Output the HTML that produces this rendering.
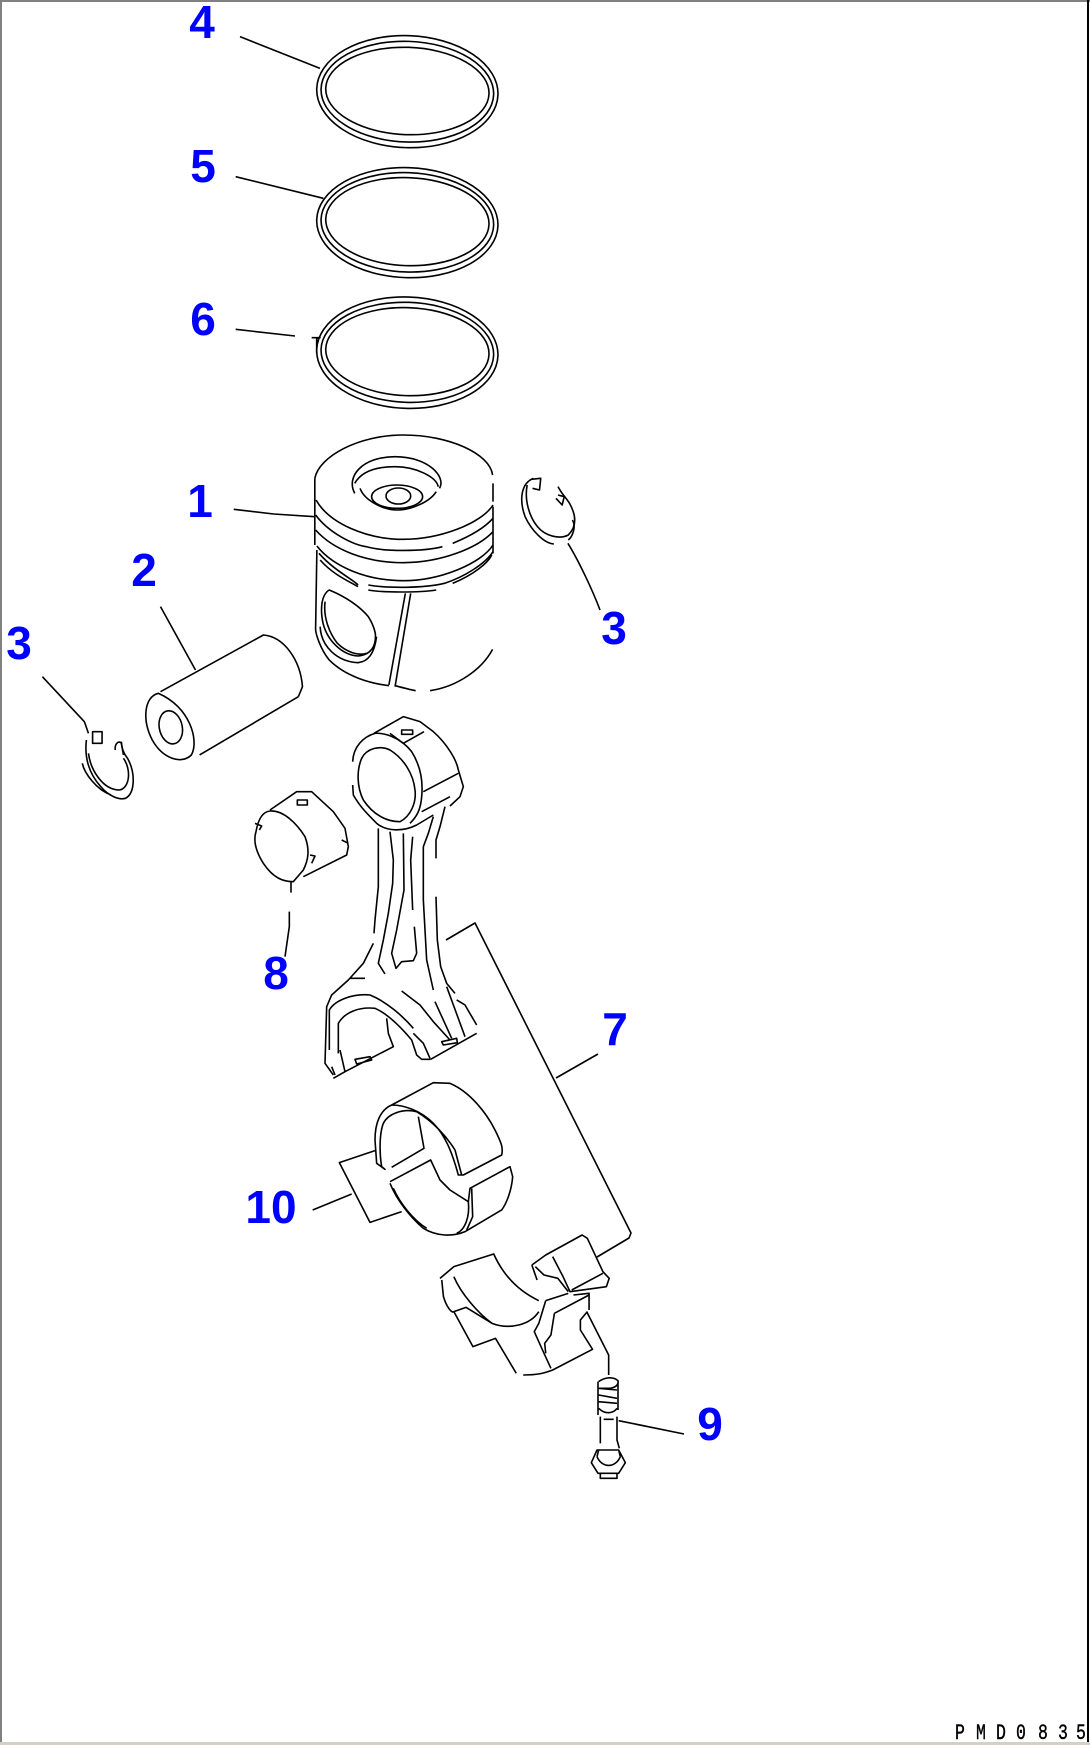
<!DOCTYPE html>
<html>
<head>
<meta charset="utf-8">
<style>
html,body{margin:0;padding:0;background:#fff;}
svg{display:block;}
path,ellipse{fill:none;stroke:#000;stroke-width:1.6;vector-effect:non-scaling-stroke;stroke-linejoin:round;}
.l{font-family:"Liberation Sans",sans-serif;font-weight:bold;font-size:46px;fill:#0000ff;text-anchor:middle;}
.f{font-family:"Liberation Mono",monospace;font-size:22px;fill:#000;stroke:#000;stroke-width:.4;}
</style>
</head>
<body>
<svg xmlns="http://www.w3.org/2000/svg" width="1090" height="1745" viewBox="0 0 1090 1745">
<rect width="1090" height="1745" fill="#fff"/>
<rect x="0" y="0" width="1090" height="2" fill="#808080"/>
<rect x="0" y="0" width="2" height="1745" fill="#808080"/>
<rect x="1087" y="0" width="2" height="1742" fill="#000"/>
<rect x="0" y="1742" width="1090" height="3" fill="#d4d0c8"/>

<!-- rings -->
<g transform="translate(150,0) scale(.33333)">
<path d="M270 110L510 205M257 530L520 595M257 988L435 1008M485 1013L510 1013L500 1015L500 1060"/>
<g transform="rotate(2 772 277)"><ellipse cx="772" cy="275" rx="272" ry="168"/><ellipse cx="772" cy="275" rx="259" ry="151"/><ellipse cx="772" cy="273" rx="245" ry="131"/></g>
<g transform="rotate(2 772 668)"><ellipse cx="772" cy="668" rx="272" ry="165"/><ellipse cx="772" cy="667" rx="259" ry="149"/><ellipse cx="772" cy="665" rx="245" ry="132"/></g>
<g transform="rotate(2 772 1058)"><ellipse cx="772" cy="1058" rx="272" ry="167"/><ellipse cx="772" cy="1057" rx="259" ry="150"/><ellipse cx="772" cy="1055" rx="245" ry="132"/></g>
</g>

<!-- piston, pin, clips -->
<g transform="translate(0,420) scale(.41152,.33333)">
<path d="M568 268L665 282L765 290"/>
<path d="M765 175C775 110 870 45 980 45C1090 45 1190 100 1197 165M765 175L765 375M1198 190L1198 245M1198 260L1198 400"/>
<path d="M768 240C800 310 890 358 980 358C1070 358 1170 310 1198 255"/>
<path d="M767 285C800 340 860 375 890 380M890 380C930 395 1030 395 1075 380M1100 370C1150 345 1180 320 1198 295"/>
<path d="M767 330C810 390 890 428 980 428C1070 428 1160 385 1198 335"/>
<path d="M770 378C810 440 890 482 980 482C1070 482 1170 430 1198 375"/>
<path d="M775 400C810 450 860 480 870 495M895 495C940 505 1030 505 1080 490C1130 470 1180 430 1198 395"/>
<path d="M778 420C810 465 850 485 870 500M895 510C930 518 1020 518 1060 510M1100 490C1150 465 1185 430 1195 405"/>
<path d="M770 390L767 620C765 640 780 690 800 720C840 770 900 790 945 797M960 797C985 805 1000 810 1010 812M1045 812C1110 800 1170 750 1197 688"/>
<path d="M985 520L945 795M998 520L960 800"/>
<path d="M800 510C780 525 778 570 785 610C795 660 830 705 870 708C900 705 915 680 912 640C908 615 900 600 895 590C875 560 840 530 800 510Z"/>
<path d="M790 545C785 590 800 640 820 670C840 695 870 708 890 700M778 620C780 680 820 725 870 728C895 725 910 700 915 650"/>
<path d="M862 220C840 170 880 110 960 110C1040 110 1085 170 1068 205M862 190C880 150 920 140 960 140C1010 140 1060 170 1065 200M875 205C885 240 930 270 965 270C1000 270 1045 245 1060 215"/>
<ellipse cx="965" cy="230" rx="62" ry="35"/><ellipse cx="968" cy="228" rx="30" ry="24"/>
<!-- right clip -->
<g transform="translate(16,0)">
<path d="M1280 175C1250 190 1245 240 1260 290C1275 330 1305 370 1330 372M1265 195C1258 240 1270 290 1290 320C1310 350 1345 358 1365 345C1385 320 1385 290 1370 255C1365 240 1350 225 1340 200"/>
<path d="M1275 178L1298 175L1295 210L1278 205M1340 225L1355 230L1350 255L1335 235"/>
<path d="M1375 300C1385 320 1375 350 1365 360"/>
</g>
<path d="M1380 370C1405 420 1440 510 1458 570"/>
<!-- left clip -->
<path d="M103 770L205 905L215 940"/>
<path d="M210 960C205 1010 215 1060 245 1100C265 1130 290 1140 305 1135C328 1120 330 1060 310 1015C300 1000 295 985 295 965M200 1030C205 1060 235 1110 270 1125M215 1000C220 1050 250 1110 290 1110C315 1105 320 1050 300 1015"/>
<path d="M225 935L248 935L248 970L225 970ZM280 990C278 970 290 960 295 970L300 1005"/>
<!-- pin -->
<path d="M385 820C350 830 345 900 370 960C395 1015 440 1035 465 1005C485 960 460 860 385 820Z"/>
<ellipse cx="415" cy="922" rx="28" ry="50" transform="rotate(-8 415 922)"/>
<path d="M390 815L640 645C690 650 730 720 735 800L725 830M485 1005L725 830M390 560L475 750"/>
</g>

<!-- rod -->
<g transform="translate(220,700) scale(.33333)">
<path d="M398 185C400 140 430 110 465 100C490 98 540 110 575 155C600 195 610 240 605 290C602 330 590 350 570 370"/>
<path d="M462 100L550 50L600 65L640 95C680 130 710 180 715 210L730 260L720 290L690 318M510 100L550 130L612 95M545 90L578 90L578 103L545 103Z"/>
<path d="M425 175C440 145 480 135 510 150C550 175 580 220 585 270C590 310 570 350 540 365C500 365 460 345 430 300C410 260 410 210 425 175Z"/>
<path d="M398 255L400 285C420 320 440 340 470 370C500 395 550 395 590 375L640 345M610 275L715 220M605 335L690 290"/>
<path d="M475 385L475 560L465 660L462 700M510 395L520 480L518 550L505 640L490 720L475 790L495 822"/>
<path d="M550 400L552 570L530 690L515 760L528 805L545 785L580 782L590 760L583 680M578 410L572 480L578 630"/>
<path d="M640 350L625 400L610 440L610 600L620 780L640 870M675 320L660 380L648 420L648 475M648 590L652 720L662 800L680 850L705 880"/>
<path d="M460 730L430 790L385 840L335 885L320 920L315 1090L340 1125M390 835L435 835"/>
<path d="M328 1050L328 930C345 900 400 880 450 885C500 905 550 950 580 985"/>
<path d="M355 1060L355 970C375 935 420 920 465 925C510 945 550 990 575 1020L590 1065L605 1078L632 1078"/>
<path d="M500 955L505 1000L520 1040L375 1115L340 1135M335 1100L345 1125M360 1050L375 1115"/>
<path d="M405 1078L450 1070L455 1080L410 1092ZM665 1025L710 1015L712 1028L670 1035Z"/>
<path d="M632 1078L770 1000M545 873L600 915L640 965L690 1020M645 905L695 1015M680 860L735 1010M710 900L735 915L770 975M580 1000L610 1030L630 1075"/>
<!-- bearing 8 -->
<path d="M150 330L230 275L275 275L340 335L375 385L385 440L380 465L250 530"/>
<path d="M150 333C190 330 230 370 255 410C270 450 265 480 250 510L220 545C190 545 160 535 130 490C105 450 100 420 108 395C115 355 130 335 150 333Z"/>
<path d="M232 300L262 300L262 315L232 315ZM105 370L125 378L118 390M365 420L385 430M270 465L285 468L275 490"/>
<path d="M208 635L208 680L195 770M213 545L213 578"/>
</g>

<!-- bracket 7 -->
<path d="M446 940L475 923L631 1233L629 1238L597 1257M556 1078L598 1054"/>

<!-- bearing 10, cap, bolt -->
<g transform="translate(220,1060) scale(.33333)">
<path d="M515 135L640 68L690 70C750 95 800 160 825 210C845 250 850 265 845 285L730 345L715 345C700 290 680 230 640 190C600 150 550 135 515 135C480 150 465 190 465 240L470 310L495 328L485 320C478 280 478 220 490 190C505 160 550 145 590 155C640 185 680 230 705 270L725 345"/>
<path d="M595 170L612 265L515 322"/>
<path d="M510 365L632 300L660 360L690 390L745 425L750 385L870 320L878 350C875 390 860 430 845 450L735 515C700 530 650 530 610 505C570 470 530 420 510 370"/>
<path d="M520 385C540 430 580 480 620 505M745 425C750 470 735 510 710 520M755 385L758 470L740 510"/>
<path d="M465 272L358 308L450 487L545 455M278 450L395 402"/>
<g transform="translate(660,0) scale(1.04,1) translate(-660,0)">
<path d="M660 655L700 620L815 582C840 640 880 690 945 722M665 660L670 710C680 745 695 760 700 755L735 742L810 790C860 810 920 795 945 755M700 650C720 700 770 760 810 790"/>
<path d="M700 755L755 860L820 835L880 940M900 945C940 945 960 940 985 930L1100 868L1065 810L1065 780L1085 755"/>
<path d="M965 722L945 790L932 815L960 880L980 925M965 722L1030 700M990 760L980 825L962 850L965 880M990 760L1090 705"/>
<path d="M925 615L965 585L1070 525L1085 535L1130 635L1148 655L1140 680L1035 695L1015 650L985 590M925 615L940 660M935 620L960 645L1000 655L1030 695M1130 640L1040 690M1045 705L1090 700L1090 750"/>
</g>
<path d="M1100 755L1166 885L1166 945"/>
<g transform="translate(6,0)">
<path d="M1130 965C1150 950 1175 950 1188 962C1190 975 1180 982 1165 985L1130 985M1130 985L1185 990M1130 1005L1185 1015M1130 1025L1185 1030M1130 1045C1150 1065 1175 1060 1185 1045M1128 965L1128 1065M1188 965L1188 1050"/>
<path d="M1135 1070L1135 1150M1185 1070L1185 1140L1192 1165M1145 1078L1175 1078"/>
<path d="M1125 1170L1190 1170L1210 1208L1190 1240L1128 1240L1108 1208ZM1125 1190C1140 1225 1180 1225 1195 1190M1135 1240L1135 1255L1185 1255L1185 1240M1130 1170L1125 1190M1190 1170L1195 1190"/>
</g>
<path d="M1196 1082L1392 1122"/>
</g>

<!-- labels -->
<text class="l" x="202" y="38">4</text>
<text class="l" x="203" y="182">5</text>
<text class="l" x="203" y="335">6</text>
<text class="l" x="200" y="517">1</text>
<text class="l" x="144" y="586">2</text>
<text class="l" x="19" y="659">3</text>
<text class="l" x="614" y="644">3</text>
<text class="l" x="276" y="989">8</text>
<text class="l" x="615" y="1045">7</text>
<text class="l" x="271" y="1223">10</text>
<text class="l" x="710" y="1440">9</text>

<!-- footer -->
<text class="f" transform="translate(955,1739) scale(.75,1)">P</text>
<text class="f" transform="translate(976,1739) scale(.75,1)">M</text>
<text class="f" transform="translate(996,1739) scale(.75,1)">D</text>
<text class="f" transform="translate(1016,1739) scale(.75,1)">0</text>
<text class="f" transform="translate(1038,1739) scale(.75,1)">8</text>
<text class="f" transform="translate(1058,1739) scale(.75,1)">3</text>
<text class="f" transform="translate(1076,1739) scale(.75,1)">5</text>
</svg>
</body>
</html>
